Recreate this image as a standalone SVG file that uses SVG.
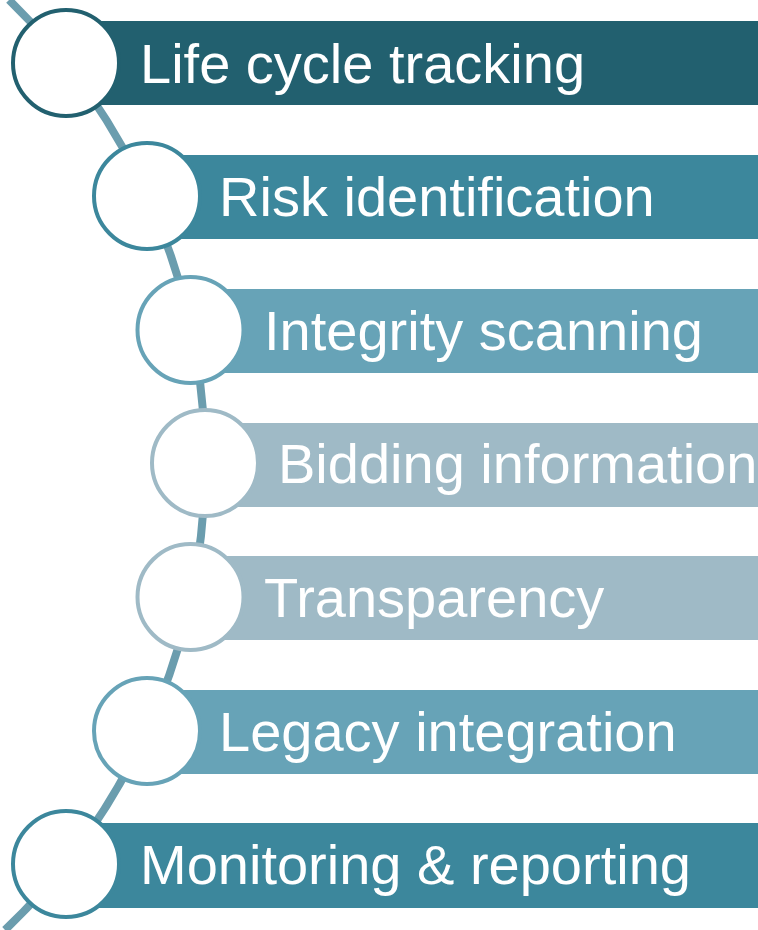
<svg xmlns="http://www.w3.org/2000/svg" width="758" height="930" viewBox="0 0 758 930">
<style>
.lbl{font-family:"Liberation Sans",Arial,sans-serif;font-size:56px;fill:#ffffff}
.dot{fill:#ffffff;stroke-width:4}
</style>
<rect width="758" height="930" fill="#ffffff"/>
<g id="connectors">
<path d="M 9 0 A 645 645 0 0 1 5 930" fill="none" stroke="#6B9DAE" stroke-width="8"/>
</g>
<g id="n1"><rect x="66" y="21" width="692" height="84" fill="#22606F"/><circle class="dot" cx="66" cy="63" r="53" stroke="#22606F"/><text class="lbl" x="140" y="83">Life cycle tracking</text></g>
<g id="n2"><rect x="146" y="155" width="612" height="84" fill="#3C879C"/><circle class="dot" cx="147" cy="196" r="53" stroke="#3C879C"/><text class="lbl" x="219" y="216">Risk identification</text></g>
<g id="n3"><rect x="190" y="289" width="568" height="84" fill="#67A3B7"/><circle class="dot" cx="190.5" cy="330" r="53" stroke="#67A3B7"/><text class="lbl" x="264" y="350">Integrity scanning</text></g>
<g id="n4"><rect x="205" y="423" width="553" height="84" fill="#9FBAC6"/><circle class="dot" cx="205" cy="463" r="53" stroke="#9FBAC6"/><text class="lbl" x="278" y="483">Bidding information</text></g>
<g id="n5"><rect x="190" y="556" width="568" height="84" fill="#9FBAC6"/><circle class="dot" cx="190.5" cy="597" r="53" stroke="#9FBAC6"/><text class="lbl" x="264" y="617">Transparency</text></g>
<g id="n6"><rect x="146" y="690" width="612" height="84" fill="#67A3B7"/><circle class="dot" cx="147" cy="731" r="53" stroke="#67A3B7"/><text class="lbl" x="219" y="751">Legacy integration</text></g>
<g id="n7"><rect x="66" y="823" width="692" height="85" fill="#3C879C"/><circle class="dot" cx="66" cy="864" r="53" stroke="#3C879C"/><text class="lbl" x="140" y="884">Monitoring &amp; reporting</text></g>
</svg>
